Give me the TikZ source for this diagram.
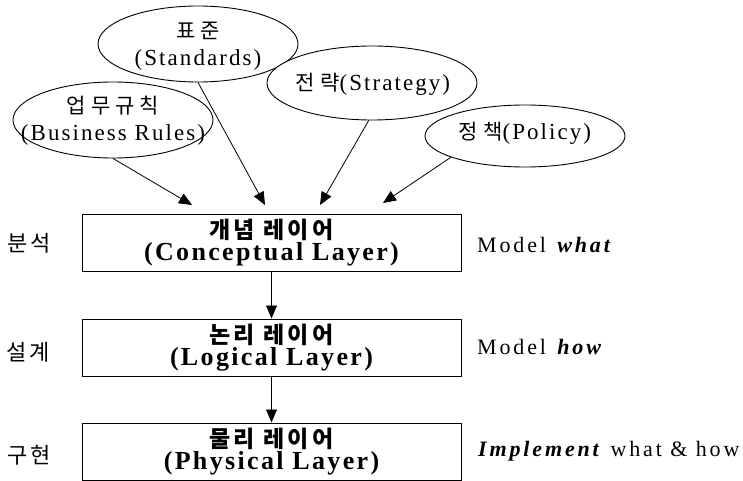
\documentclass[tikz,border=0pt]{standalone}
\usepackage{fontspec}
\setmainfont{Liberation Serif}[LetterSpace=9]
\newfontfamily\hangul{Noto Sans CJK KR}[LetterSpace=14]
\usetikzlibrary{shapes.geometric,arrows.meta}
\newcommand\idealabel{\hangul\fontsize{21}{27}\selectfont\addfontfeature{LetterSpace=24}}

\begin{document}
\begin{tikzpicture}
            [x=1pt, y=-1pt,
             layer/.style={draw, line width=1pt, minimum width=379pt, minimum height=57pt,
                           inner sep=0pt, align=center, font=\fontsize{26}{22}\selectfont\bfseries},
             idea/.style={draw, ellipse, fill=white, line width=0.9pt, inner sep=0pt},
             ideatext/.style={align=center, inner sep=0pt, font=\fontsize{23}{27}\selectfont},
             feed/.style={-{Triangle[length=13pt,width=11pt]}, line width=0.8pt},
             side/.style={inner sep=0pt, font=\fontsize{22}{24}\selectfont\addfontfeature{LetterSpace=13}}]
            %\draw [help lines] (0,0) grid (743,481);
            \useasboundingbox (0,0) rectangle (743,481);
            % the three layers
            \node[layer] (con) at (271.5,243) {{\hangul\fontsize{23}{22}\selectfont 개념 레이어}\\(Conceptual Layer)};
            \node[layer] (log) at (271.5,347.5) {{\hangul\fontsize{23}{22}\selectfont 논리 레이어}\\(Logical Layer)};
            \node[layer] (phy) at (271.5,451.5) {{\hangul\fontsize{23}{22}\selectfont 물리 레이어}\\(Physical Layer)};
            \draw[feed] (con) -- (log);
            \draw[feed] (log) -- (phy);
            % inputs
            \node[idea, minimum width=200pt, minimum height=76pt] (st) at (198,44) {};
            \node[ideatext] (st-t) at (198,46) {{\idealabel 표준}\\(Standards)};
            \node[idea, minimum width=210pt, minimum height=74pt] (sg) at (372,83) {};
            \node[ideatext] (sg-t) at (373,84) {{\idealabel 전략}(Strategy)};
            \node[idea, minimum width=200pt, minimum height=76pt] (br) at (113,120) {};
            \node[ideatext] (br-t) at (113,121) {{\idealabel 업무규칙}\\(Business Rules)};
            \node[idea, minimum width=200pt, minimum height=62pt] (po) at (525,136) {};
            \node[ideatext] (po-t) at (525,133) {{\idealabel 정책}(Policy)};
            \coordinate (t1) at (192,205);
            \coordinate (t2) at (265,205);
            \coordinate (t3) at (320,205);
            \coordinate (t4) at (383,203);
            \draw[feed] (br.south) -- (t1);
            \draw[feed] (st.south) -- (t2);
            \draw[feed] (sg.265) -- (t3);
            \draw[feed] (po.196) -- (t4);
            % stages
            \node[side] (ana) at (29,243) {\hangul 분석};
            \node[side] (des) at (28,352) {\hangul 설계};
            \node[side] (imp) at (29,455) {\hangul 구현};
            \node[side, anchor=west] (mwhat) at (477,245) {Model \textbf{\textit{what}}};
            \node[side, anchor=west] (mhow) at (477,347) {Model \textbf{\textit{how}}};
            \node[side, anchor=west] (both) at (478,451) {\textbf{\textit{Implement}} what \& how};
\end{tikzpicture}
\end{document}
